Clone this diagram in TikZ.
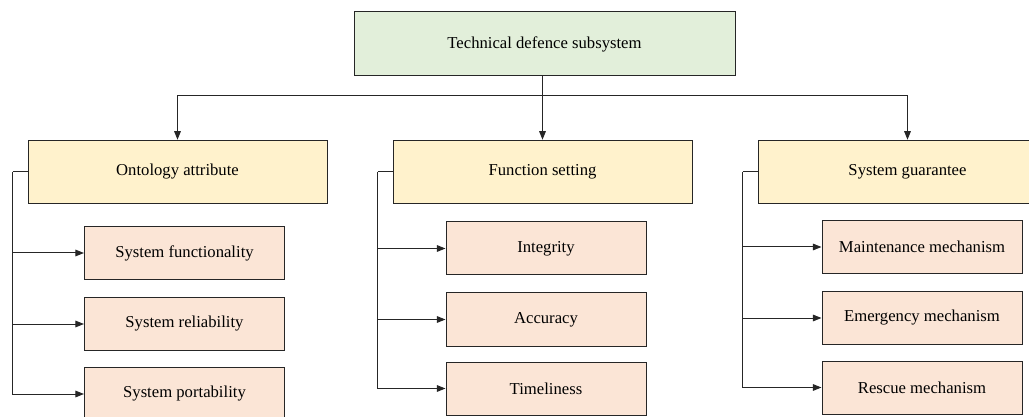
\documentclass[tikz,border=0pt]{standalone}
\usepackage{fontspec}
\setmainfont{Liberation Serif}
\usetikzlibrary{arrows.meta}
\definecolor{rootfill}{HTML}{E2EFDA}
\definecolor{groupfill}{HTML}{FFF2CC}
\definecolor{leaffill}{HTML}{FBE5D6}
\definecolor{edge}{HTML}{262626}
\tikzset{
  box/.style={draw=edge, line width=0.75pt, inner sep=0pt, align=center,
    font=\fontsize{12.5}{15}\selectfont},
  rootbox/.style={box, fill=rootfill, minimum width=285.75pt, minimum height=48pt},
  groupbox/.style={box, fill=groupfill, minimum width=224.25pt, minimum height=47.6pt},
  leafbox/.style={box, fill=leaffill, minimum width=150pt, minimum height=39.75pt},
  link/.style={draw=edge, line width=0.75pt},
  arrowlink/.style={link, -{Triangle[length=6.5pt,width=5pt]}},
}
\begin{document}
\begin{tikzpicture}[x=0.75pt, y=-0.75pt]
  \useasboundingbox (0,0) rectangle (1029,417);
  \clip (0,0) rectangle (1029,417);

  % root
  \node[rootbox] (top) at (544.5,44) {Technical defence subsystem};

  % second level
  \node[groupbox] (ont) at (177.5,172) {Ontology attribute};
  \node[groupbox] (fun) at (542.5,172) {Function setting};
  \node[groupbox] (gua) at (907.5,172) {System guarantee};

  % leaves
  \node[leafbox] (o1) at (184.5,253) {System functionality};
  \node[leafbox] (o2) at (184.5,324) {System reliability};
  \node[leafbox] (o3) at (184.5,394) {System portability};

  \node[leafbox] (f1) at (546,248.5) {Integrity};
  \node[leafbox] (f2) at (546,319.5) {Accuracy};
  \node[leafbox] (f3) at (546,388.5) {Timeliness};

  \node[leafbox] (g1) at (922,247) {Maintenance mechanism};
  \node[leafbox] (g2) at (922,318) {Emergency mechanism};
  \node[leafbox] (g3) at (922,387.5) {Rescue mechanism};

  % root to second level
  \coordinate (split) at (542.5,96);
  \draw[arrowlink] (top.south -| split) -- (fun.north);
  \draw[arrowlink] (split) -| (ont.north);
  \draw[arrowlink] (split) -| (gua.north);

  % second level to leaves
  \foreach \g/\a/\b/\c in {ont/o1/o2/o3, fun/f1/f2/f3, gua/g1/g2/g3}{
    \draw[link] (\g.west) -- ++(-15,0) coordinate (\g-rail);
    \draw[arrowlink] (\g-rail) |- (\a.west);
    \draw[arrowlink] (\g-rail) |- (\b.west);
    \draw[arrowlink] (\g-rail) |- (\c.west);
  }
\end{tikzpicture}
\end{document}
